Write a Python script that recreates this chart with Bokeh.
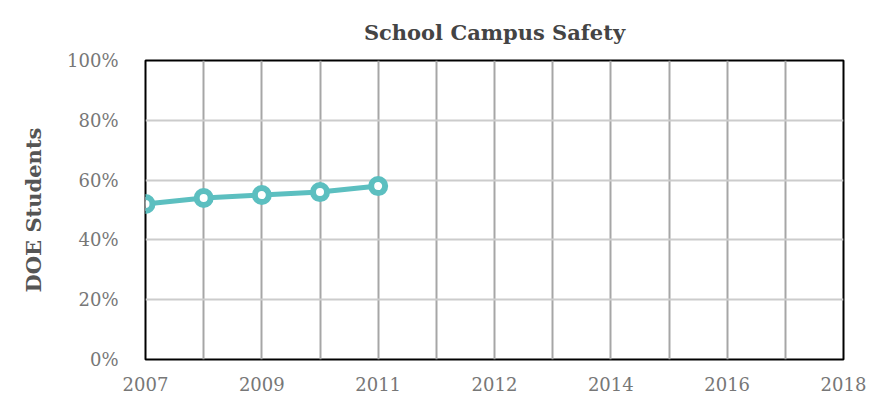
from bokeh.plotting import figure
from bokeh.models import Range1d, FixedTicker, PrintfTickFormatter, ColumnDataSource
from bokeh.embed import file_html
from bokeh.resources import INLINE

# Data
years = [2007, 2008, 2009, 2010, 2011]
slot_labels = ["2007", "2008", "2009", "2010", "2011", "", "2012", "2013", "2014", "2015", "2016", "2017", "2018"]
values = [52, 54, 55, 56, 58]
tick_slots = [0, 2, 4, 6, 8, 10, 12]
y_ticks = [0, 20, 40, 60, 80, 100]

x_idx = [slot_labels.index(str(y)) for y in years]
src = ColumnDataSource(dict(x=x_idx, y=values))

FONT = "DejaVu Serif"
TEAL = "#5cbfc0"

p = figure(width=880, height=394, output_backend="svg", toolbar_location=None,
           x_range=Range1d(0, len(slot_labels) - 1), y_range=Range1d(0, 100),
           min_border_left=145, min_border_right=37, min_border_top=60, min_border_bottom=35)

p.title.text = "School Campus Safety"
p.title.align = "center"
p.title.text_font = FONT
p.title.text_font_size = "21px"
p.title.text_color = "#444444"
p.title.text_font_style = "bold"
p.title.standoff = 32

p.outline_line_color = "black"
p.outline_line_width = 2
p.outline_line_alpha = 1

p.xaxis.ticker = FixedTicker(ticks=tick_slots)
p.xaxis.major_label_overrides = {i: slot_labels[i] for i in tick_slots}
p.xaxis.major_label_standoff = 11
p.yaxis.ticker = FixedTicker(ticks=y_ticks)
p.yaxis.formatter = PrintfTickFormatter(format="%d%%")
p.yaxis.major_label_standoff = 21
for ax in (p.xaxis, p.yaxis):
    ax.axis_line_color = None
    ax.major_tick_line_color = None
    ax.minor_tick_line_color = None
    ax.major_label_text_font = FONT
    ax.major_label_text_font_size = "18px"
    ax.major_label_text_color = "#777777"

p.yaxis.axis_label = "DOE Students"
p.yaxis.axis_label_text_font = FONT
p.yaxis.axis_label_text_font_size = "21px"
p.yaxis.axis_label_text_font_style = "bold"
p.yaxis.axis_label_text_color = "#555555"
p.yaxis.axis_label_standoff = 18

p.xgrid.ticker = FixedTicker(ticks=list(range(len(slot_labels))))
p.xgrid.grid_line_color = "#a6a6a6"
p.xgrid.grid_line_width = 2
p.ygrid.ticker = FixedTicker(ticks=y_ticks)
p.ygrid.grid_line_color = "#cccccc"
p.ygrid.grid_line_width = 2

p.line("x", "y", source=src, line_color=TEAL, line_width=5)
p.scatter("x", "y", source=src, size=14, fill_color="white", line_color=TEAL, line_width=6)

open("out.html", "w").write(file_html(p, INLINE))
